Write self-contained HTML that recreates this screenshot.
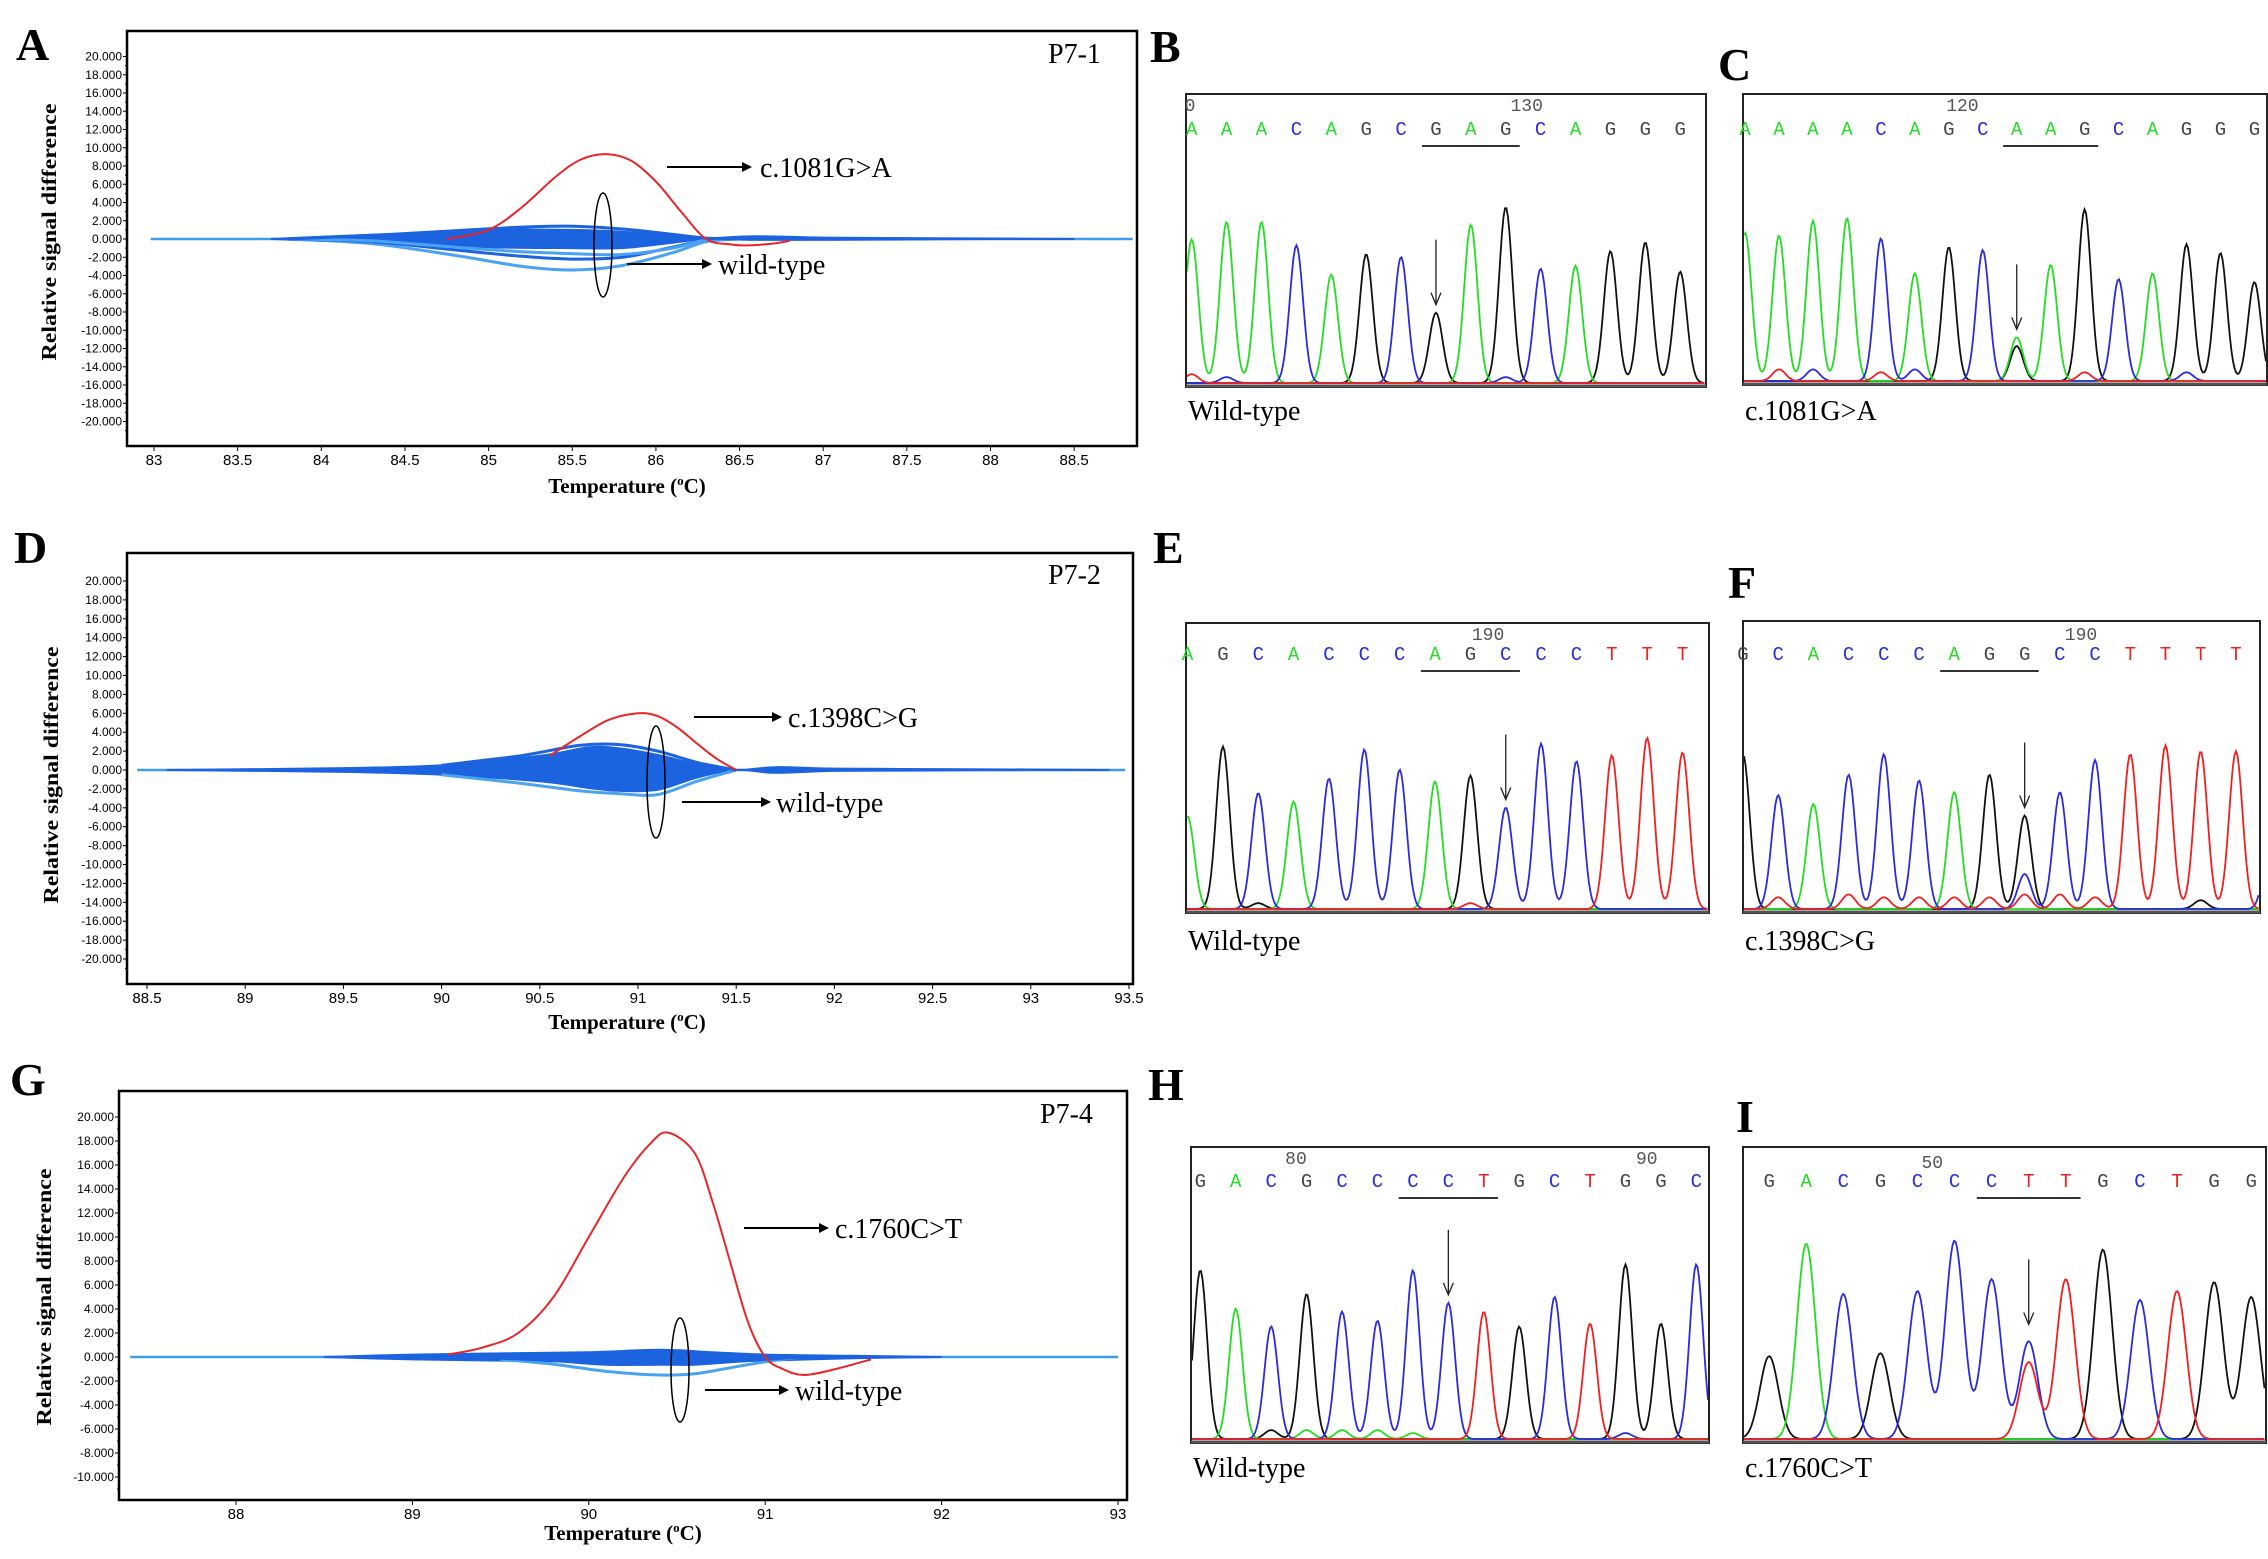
<!DOCTYPE html>
<html><head><meta charset="utf-8"><title>HRM and Sanger figure</title>
<style>
html,body{margin:0;padding:0;background:#fff;}
svg{display:block;}
.lbl{font-family:"Liberation Serif",serif;font-weight:bold;font-size:46px;fill:#000;}
.ann{font-family:"Liberation Serif",serif;font-size:28px;fill:#000;}
.tick{font-family:"Liberation Sans",sans-serif;font-size:12px;fill:#000;}
.xtick{font-family:"Liberation Sans",sans-serif;font-size:15px;fill:#000;}
.ttl{font-family:"Liberation Serif",serif;font-weight:bold;font-size:21px;fill:#000;}
.seq{font-family:"Liberation Mono",monospace;font-size:19px;}
.num{font-family:"Liberation Mono",monospace;font-size:18px;fill:#555;}
</style></head>
<body>
<svg id="fig" width="2268" height="1559" viewBox="0 0 2268 1559" xmlns="http://www.w3.org/2000/svg">
<rect width="2268" height="1559" fill="#fff"/>
</svg>
<script>
// ===== Melt curve data (values in thousands) =====
const xTicksA=[83,83.5,84,84.5,85,85.5,86,86.5,87,87.5,88,88.5];
const yTicksA=[20,18,16,14,12,10,8,6,4,2,0,-2,-4,-6,-8,-10,-12,-14,-16,-18,-20];
const mutTA=[84.75,85,85.2,85.4,85.55,85.7,85.85,86.0,86.15,86.3,86.45,86.55,86.7,86.8];
const mutVA=[0,1,3.5,6.8,8.7,9.3,8.6,6.3,3,0,-0.6,-0.7,-0.5,-0.2];
const bandTA=[83.7,84,84.5,85,85.5,85.8,86.1,86.3,86.6,87,87.5,88,88.5];
const bandUpA=[0,0.25,0.6,1.0,1.0,0.8,0.4,0.1,0.3,0.15,0.1,0.05,0];
const bandLoA=[0,-0.2,-0.5,-0.9,-1.0,-1.0,-0.4,0,-0.1,-0.1,-0.05,0,0];
const wtTA=[83.8,84.3,84.8,85.2,85.5,85.8,86.1,86.3,86.5];
const wt1A=[0,-0.5,-1.8,-3.0,-3.4,-2.9,-1.5,-0.3,0];
const wt2A=[0,-0.3,-1.2,-1.9,-2.2,-2.0,-0.9,-0.1,0];
const wt3A=[0,-0.2,-0.9,-1.4,-1.6,-1.7,-1.0,-0.1,0];
const wt4A=[0,0.4,0.9,1.3,1.4,1.1,0.5,0.1,0];

const xTicksD=[88.5,89,89.5,90,90.5,91,91.5,92,92.5,93,93.5];
const yTicksD=yTicksA;
const mutTD=[90.55,90.7,90.85,91.0,91.1,91.2,91.3,91.4,91.5];
const mutVD=[1.5,3.5,5.3,6.0,5.7,4.5,2.8,1.2,0];
const bandTD=[88.6,89.5,90,90.5,90.75,90.9,91.1,91.3,91.5,91.7,92,92.5,93,93.4];
const bandUpD=[0,0.2,0.5,1.5,2.4,2.3,1.6,0.6,0,0.3,0.15,0.1,0.05,0];
const bandLoD=[0,-0.2,-0.5,-1.2,-1.9,-2.2,-2.1,-0.8,0,-0.3,-0.1,-0.05,0,0];
const wtTD=[90,90.4,90.7,90.9,91.1,91.3,91.5];
const wt1D=[-0.5,-1.4,-2.2,-2.5,-2.6,-1.2,0];
const wt2D=[0.5,1.5,2.6,2.7,2.0,0.8,0];

const xTicksG=[88,89,90,91,92,93];
const yTicksG=[20,18,16,14,12,10,8,6,4,2,0,-2,-4,-6,-8,-10];
const mutTG=[89.2,89.4,89.6,89.8,90.0,90.2,90.35,90.45,90.6,90.7,90.8,90.9,91.0,91.1,91.22,91.4,91.6];
const mutVG=[0.2,0.8,2.0,5.0,10,15,17.8,18.7,17,13,8,3,0,-1,-1.5,-1,-0.2];
const bandTG=[88.5,89,89.5,90,90.4,90.7,91,91.5,92];
const bandUpG=[0,0.2,0.3,0.4,0.6,0.4,0.2,0.1,0];
const bandLoG=[0,-0.2,-0.3,-0.4,-0.5,-0.4,-0.3,-0.1,0];
const wtTG=[89.5,89.8,90.1,90.4,90.6,90.8,91.0,91.2];
const wt1G=[-0.2,-0.6,-1.2,-1.5,-1.4,-0.9,-0.4,0];
const wt2G=[-0.1,-0.3,-0.6,-0.6,-0.6,-0.4,-0.2,0];

// ===== Sanger data =====
const seqB="AAACAGCGAGCAGGG";
const hB=[0.49,0.55,0.55,0.47,0.37,0.44,0.43,0.24,0.54,0.60,0.39,0.40,0.45,0.48,0.38];
const secB=[[0,'T',0.03],[1,'C',0.02],[9,'C',0.02]];
const seqC="AAAACAGCAAGCAGGG";
const hC=[0.51,0.50,0.55,0.56,0.49,0.37,0.46,0.45,0.15,0.40,0.59,0.35,0.37,0.47,0.44,0.34];
const secC=[[8,'G',0.12],[1,'T',0.04],[2,'C',0.04],[4,'T',0.03],[5,'C',0.04],[10,'T',0.03],[13,'C',0.03]];
const seqE="AGCACCCAGCCCTTT";
const hE=[0.32,0.56,0.40,0.37,0.45,0.55,0.48,0.44,0.46,0.35,0.57,0.51,0.53,0.59,0.54];
const secE=[[2,'G',0.02],[8,'T',0.02]];
const seqF="GCACCCAGGCCTTTT";
const hF=[0.53,0.39,0.36,0.46,0.53,0.44,0.40,0.46,0.32,0.40,0.51,0.53,0.56,0.54,0.54];
const secF=[[8,'C',0.12],[15,'C',0.28],[1,'T',0.04],[3,'T',0.05],[4,'T',0.04],[5,'T',0.04],[6,'T',0.04],[7,'T',0.04],[8,'T',0.05],[9,'T',0.05],[10,'T',0.04],[13,'G',0.03]];
const seqH="GACGCCCCTGCTGGC";
const hH=[0.57,0.44,0.38,0.49,0.43,0.40,0.57,0.46,0.43,0.38,0.48,0.39,0.59,0.39,0.59];
const secH=[[2,'G',0.03],[3,'A',0.03],[4,'A',0.03],[5,'A',0.03],[6,'A',0.02],[12,'C',0.02]];
const seqI="GACGCCCTTGCTGG";
const hI=[0.28,0.66,0.49,0.29,0.50,0.67,0.54,0.26,0.54,0.64,0.47,0.50,0.53,0.48];
const secI=[[7,'C',0.33]];

// ===== helpers =====
const NS="http://www.w3.org/2000/svg";
const svg=document.getElementById('fig');
function mk(tag,attrs,parent,txt){const e=document.createElementNS(NS,tag);for(const k in attrs)e.setAttribute(k,attrs[k]);if(txt!==undefined)e.textContent=txt;(parent||svg).appendChild(e);return e;}
function smooth(pts){if(pts.length<2)return '';let d='M'+pts[0][0].toFixed(1)+','+pts[0][1].toFixed(1);
 for(let i=0;i<pts.length-1;i++){const p0=pts[i-1]||pts[i],p1=pts[i],p2=pts[i+1],p3=pts[i+2]||p2;
  const c1=[p1[0]+(p2[0]-p0[0])/6,p1[1]+(p2[1]-p0[1])/6],c2=[p2[0]-(p3[0]-p1[0])/6,p2[1]-(p3[1]-p1[1])/6];
  d+='C'+c1[0].toFixed(1)+','+c1[1].toFixed(1)+' '+c2[0].toFixed(1)+','+c2[1].toFixed(1)+' '+p2[0].toFixed(1)+','+p2[1].toFixed(1);}
 return d;}
function label(x,y,t,name){const e=mk('text',{x:x,y:y,class:'lbl'},svg,t);}

function melt(c){
 const g=mk('g',{});
 
 
 const sx=v=>c.x0px+(v-c.x0v)*c.pxPerX, sy=v=>c.zeroPx-v*c.pxPerY;
 const box=mk('rect',{x:c.L,y:c.T,width:c.R-c.L,height:c.B-c.T,fill:'#fff',stroke:'#000','stroke-width':2.5},g);
 
 c.yT.forEach(v=>{const y=sy(v);mk('line',{x1:c.L-4,x2:c.L,y1:y,y2:y,stroke:'#000','stroke-width':1},g);
  mk('line',{x1:c.L-2,x2:c.L,y1:y+c.pxPerY,y2:y+c.pxPerY,stroke:'#000','stroke-width':1},g);
  const t=mk('text',{x:c.L-5,y:y+4,'text-anchor':'end',class:'tick'},g,v.toFixed(3));
  });
 c.xT.forEach(v=>{const x=sx(v);mk('line',{x1:x,x2:x,y1:c.B,y2:c.B+5,stroke:'#000','stroke-width':1},g);
  const t=mk('text',{x:x,y:c.B+19,'text-anchor':'middle',class:'xtick'},g,String(v));
  });
 const yt=mk('text',{x:c.ytx,y:c.yty,'text-anchor':'middle',class:'ttl',transform:'rotate(-90 '+c.ytx+' '+c.yty+')',textLength:257,lengthAdjust:'spacingAndGlyphs'},g,'Relative signal difference');
 
 const xt=mk('text',{x:c.xtx,y:c.xty,'text-anchor':'middle',class:'ttl'},g);
 
 xt.innerHTML='Temperature (<tspan font-size="13" dy="-8">o</tspan><tspan dy="8">C)</tspan>';
 const bl=mk('line',{x1:sx(c.baseFrom),x2:sx(c.baseTo),y1:sy(0),y2:sy(0),stroke:'#3c9cf0','stroke-width':2.5},g);
 
 const up=c.bandT.map((t,i)=>[sx(t),sy(c.bandUp[i])]),lo=c.bandT.map((t,i)=>[sx(t),sy(c.bandLo[i])]).reverse();
 const bd=smooth(up)+'L'+smooth(lo).slice(1)+'Z';
 const band=mk('path',{d:bd,fill:'#1c63e0',stroke:'#1c63e0','stroke-width':2},g);
 
 c.wts.forEach((arr,k)=>{const p=mk('path',{d:smooth(c.wtT.map((t,i)=>[sx(t),sy(arr[i])])),fill:'none',stroke:k%2?'#1c63e0':'#4aa3f2','stroke-width':3},g);
  });
 const red=mk('path',{d:smooth(c.mutT.map((t,i)=>[sx(t),sy(c.mutV[i])])),fill:'none',stroke:'#e8262a','stroke-width':2},g);
 
 const el=mk('ellipse',{cx:c.ell[0],cy:c.ell[1],rx:c.ell[2],ry:c.ell[3],fill:'none',stroke:'#000','stroke-width':1.5},g);
 
 function arrow(x1,x2,y,t,tx,name){mk('line',{x1:x1,x2:x2-8,y1:y,y2:y,stroke:'#000','stroke-width':2},g);
  mk('path',{d:'M'+x2+','+y+' l-10,-5 v10 z',fill:'#000'},g);
  const e=mk('text',{x:tx,y:y+10,class:'ann'},g,t);}
 arrow(c.mArr[0],c.mArr[1],c.mArr[2],c.mText,c.mArr[3],'mutation-label');
 arrow(c.wArr[0],c.wArr[1],c.wArr[2],'wild-type',c.wArr[3],'wild-type-label');
 const p=mk('text',{x:c.pLab[0],y:c.pLab[1],class:'ann'},g,c.pText);
 
}

melt({name:'melt-plot-a',L:127,T:31,R:1137,B:446,x0v:83,x0px:154,pxPerX:167.3,zeroPx:239,pxPerY:9.125,xT:xTicksA,yT:yTicksA,
 ytx:56,yty:232,xtx:627,xty:493,baseFrom:82.98,baseTo:88.85,bandT:bandTA,bandUp:bandUpA,bandLo:bandLoA,wtT:wtTA,wts:[wt1A,wt2A,wt3A,wt4A],
 mutT:mutTA,mutV:mutVA,ell:[603,245,9,52],mArr:[667,752,167,760],mText:'c.1081G>A',wArr:[627,712,264,718],pLab:[1048,63],pText:'P7-1'});
melt({name:'melt-plot-d',L:127,T:553,R:1133,B:984,x0v:88.5,x0px:147,pxPerX:196.4,zeroPx:770,pxPerY:9.45,xT:xTicksD,yT:yTicksD,
 ytx:58,yty:775,xtx:627,xty:1029,baseFrom:88.45,baseTo:93.48,bandT:bandTD,bandUp:bandUpD,bandLo:bandLoD,wtT:wtTD,wts:[wt1D,wt2D],
 mutT:mutTD,mutV:mutVD,ell:[656,782,9,56],mArr:[694,782,717,788],mText:'c.1398C>G',wArr:[682,771,802,776],pLab:[1048,584],pText:'P7-2'});
melt({name:'melt-plot-g',L:119,T:1091,R:1127,B:1500,x0v:88,x0px:236,pxPerX:176.4,zeroPx:1357,pxPerY:12,xT:xTicksG,yT:yTicksG,
 ytx:51,yty:1297,xtx:623,xty:1540,baseFrom:87.4,baseTo:93.0,bandT:bandTG,bandUp:bandUpG,bandLo:bandLoG,wtT:wtTG,wts:[wt1G,wt2G],
 mutT:mutTG,mutV:mutVG,ell:[680,1370,9,52],mArr:[744,829,1228,835],mText:'c.1760C>T',wArr:[705,789,1390,795],pLab:[1040,1123],pText:'P7-4'});

// ===== chromatograms =====
const COL={A:'#22dd22',C:'#2b2bdd',G:'#111111',T:'#ee2020'};
function chrom(c){
 const g=mk('g',{});
 
 
 const W=c.R-c.L,H=c.B-c.T,base=c.B-4;
 const px=i=>c.L+W*(c.start+i*c.step);
 const sig=W*c.step*c.sw;
 const peaks=[];
 c.seq.split('').forEach((ch,i)=>peaks.push([i,ch,c.h[i]]));
 c.sec.forEach(s=>peaks.push(s));
 ['G','A','C','T'].forEach(col=>{
  const ps=peaks.filter(p=>p[1]===col);let d='';
  for(let x=c.L+1;x<=c.R-1;x+=1.5){let v=0;ps.forEach(p=>{const dx=(x-px(p[0]))/sig;v+=p[2]*Math.exp(-0.5*dx*dx);});
   const y=base-v*H;d+=(d?'L':'M')+x.toFixed(1)+','+y.toFixed(1);}
  const tr=mk('path',{d:d,fill:'none',stroke:COL[col],'stroke-width':1.8},g);
  });
 const bx=mk('rect',{x:c.L,y:c.T,width:W,height:H,fill:'none',stroke:'#222','stroke-width':2},g);
 
 mk('line',{x1:c.L,x2:c.R,y1:c.B-1,y2:c.B-1,stroke:'#555','stroke-width':3},g);
 c.seq.split('').forEach((ch,i)=>{const t=mk('text',{x:px(i),y:c.letY,'text-anchor':'middle',class:'seq',fill:COL[ch]==='#111111'?'#444':COL[ch]},g,ch);
  });
 c.nums.forEach(n=>{const t=mk('text',{x:px(n[0]),y:c.numY,'text-anchor':'middle',class:'num'},g,n[1]);
  });
 mk('line',{x1:px(c.ul-0.4),x2:px(c.ul+2.4),y1:c.letY+11,y2:c.letY+11,stroke:'#333','stroke-width':2},g);
 const ax=px(c.arr),top=base-(c.arrH||c.h[c.arr])*H-8;
 mk('line',{x1:ax,x2:ax,y1:top-65,y2:top,stroke:'#222','stroke-width':1.3},g);
 mk('path',{d:'M'+(ax-5)+','+(top-12)+' L'+ax+','+top+' L'+(ax+5)+','+(top-12),fill:'none',stroke:'#222','stroke-width':1.3},g);
 const lb=mk('text',{x:c.L+2,y:c.labY,class:'ann'},g,c.label);
 
}
chrom({name:'chromatogram-b',L:1186,R:1706,T:94,B:387,start:0.011,step:0.0671,sw:0.19,seq:seqB,h:hB,sec:secB,letY:135,numY:111,nums:[[-0.05,'0'],[9.6,'130']],ul:7,arr:7,label:'Wild-type',labY:420});
chrom({name:'chromatogram-c',L:1743,R:2267,T:94,B:385,start:0.004,step:0.0648,sw:0.19,seq:seqC,h:hC,sec:secC,letY:135,numY:111,nums:[[6.4,'120']],ul:8,arr:8,label:'c.1081G>A',labY:420});
chrom({name:'chromatogram-e',L:1186,R:1709,T:623,B:913,start:0.003,step:0.0676,sw:0.19,seq:seqE,h:hE,sec:secE,letY:660,numY:640,nums:[[8.5,'190']],ul:7,arr:9,label:'Wild-type',labY:950});
chrom({name:'chromatogram-f',L:1743,R:2260,T:621,B:913,start:0.0,step:0.0681,sw:0.19,seq:seqF,h:hF,sec:secF,letY:660,numY:640,nums:[[9.6,'190']],ul:6,arr:8,label:'c.1398C>G',labY:950});
chrom({name:'chromatogram-h',L:1191,R:1709,T:1147,B:1443,start:0.018,step:0.0684,sw:0.19,seq:seqH,h:hH,sec:secH,letY:1187,numY:1164,nums:[[2.7,'80'],[12.6,'90']],ul:6,arr:7,label:'Wild-type',labY:1477});
chrom({name:'chromatogram-i',L:1743,R:2266,T:1147,B:1443,start:0.05,step:0.0709,sw:0.25,seq:seqI,h:hI,sec:secI,letY:1187,numY:1168,nums:[[4.4,'50']],ul:6,arr:7,arrH:0.36,label:'c.1760C>T',labY:1477});

label(16,60,'A','panel-label-a');label(14,563,'D','panel-label-d');label(10,1095,'G','panel-label-g');
label(1150,62,'B','panel-label-b');label(1718,80,'C','panel-label-c');label(1153,563,'E','panel-label-e');
label(1728,598,'F','panel-label-f');label(1148,1100,'H','panel-label-h');label(1736,1132,'I','panel-label-i');
</script>
</body></html>
